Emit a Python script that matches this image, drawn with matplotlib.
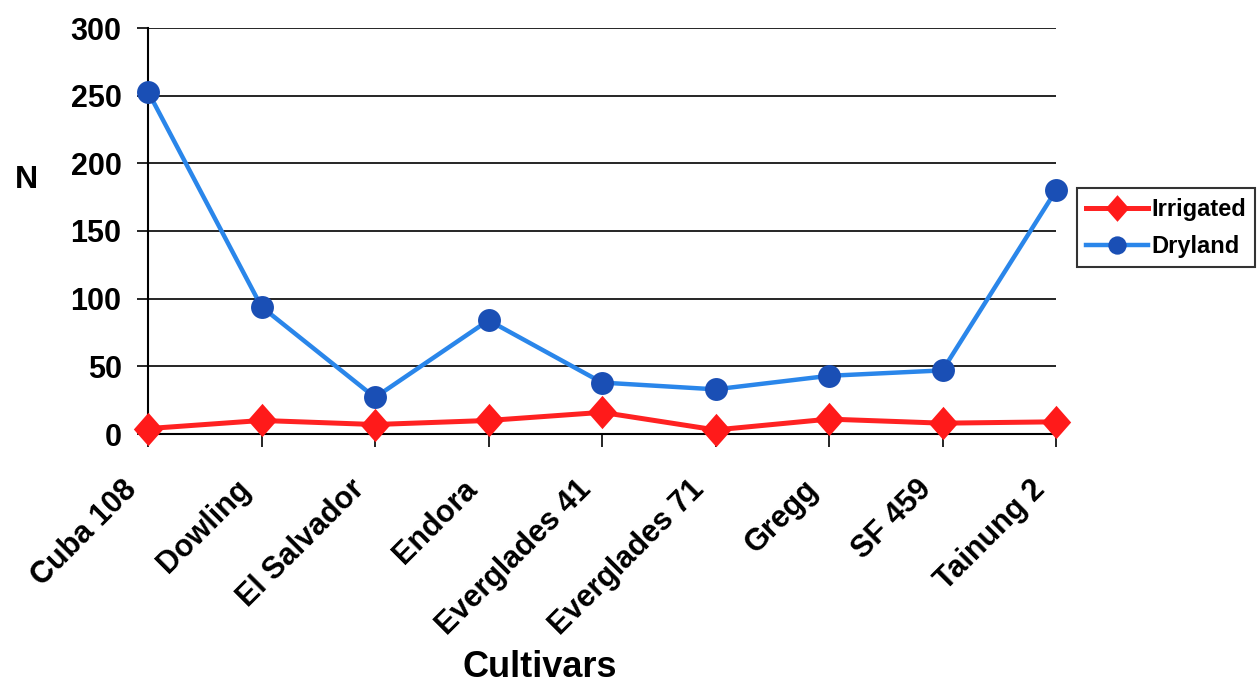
import matplotlib.pyplot as plt
from matplotlib.transforms import ScaledTranslation

plt.rcParams['font.family'] = ['Liberation Sans', 'DejaVu Sans']
plt.rcParams['font.weight'] = 'bold'

cultivars = ['Cuba 108', 'Dowling', 'El Salvador', 'Endora', 'Everglades 41',
             'Everglades 71', 'Gregg', 'SF 459', 'Tainung 2']
irrigated = [4, 10, 7, 10, 16, 3, 11, 8, 9]
dryland = [253, 94, 27, 84, 38, 33, 43, 47, 180]

x = list(range(len(cultivars)))

# slightly tall diamond, like the spreadsheet marker
diamond = [(0, 1), (0.88, 0), (0, -1), (-0.88, 0), (0, 1)]

fig = plt.figure(figsize=(12.6, 6.89), dpi=100)
ax = fig.add_axes([148/1260, 1 - 434/689, (1056 - 148)/1260, (434 - 28)/689])

ax.plot(x, irrigated, color='#ff2222', lw=3.6, marker=diamond, ms=24,
        mfc='#ff1a1a', mec='#ff1a1a', mew=0, label='Irrigated', zorder=3, clip_on=False)
ax.plot(x, dryland, color='#2a86ea', lw=3.2, marker='o', ms=16.5,
        mfc='#1a4fb5', mec='#1a4fb5', mew=0, label='Dryland', zorder=3, clip_on=False)

ax.set_xlim(0, 8)
ax.set_ylim(0, 300)
ax.set_yticks(range(0, 301, 50))
ax.yaxis.grid(True, color='black', lw=1.2)
ax.set_axisbelow(True)
for s in ['top', 'right']:
    ax.spines[s].set_visible(False)
ax.spines['left'].set_linewidth(1.5)
ax.spines['bottom'].set_linewidth(1.5)
ax.tick_params(axis='y', labelsize=22, length=8, width=1.2, pad=11)
ax.tick_params(axis='x', labelsize=22, length=9, width=1.2, pad=5)

ax.set_xticks(x)
ax.set_xticklabels(cultivars, rotation=45, ha='right', rotation_mode='anchor')
shift = ScaledTranslation(-0.26, -0.21, fig.dpi_scale_trans)
for lab in ax.get_xticklabels():
    lab.set_transform(lab.get_transform() + shift)

ax.set_xlabel('Cultivars', fontsize=26, fontweight='bold', va='bottom')
ax.xaxis.set_label_coords(0.431, -0.618)
ax.set_ylabel('N', fontsize=23, fontweight='bold', rotation=0, va='center', ha='center')
ax.yaxis.set_label_coords(-0.134, 0.625)

leg = ax.legend(loc='upper left', bbox_to_anchor=(1.023, 0.605), fontsize=17,
                frameon=True, fancybox=False, edgecolor='black',
                handlelength=2.6, handletextpad=0.15, borderpad=0.4,
                labelspacing=0.6, borderaxespad=0, markerscale=0.8)
leg.get_frame().set_linewidth(1.5)

fig.savefig('out.png', dpi=100)
